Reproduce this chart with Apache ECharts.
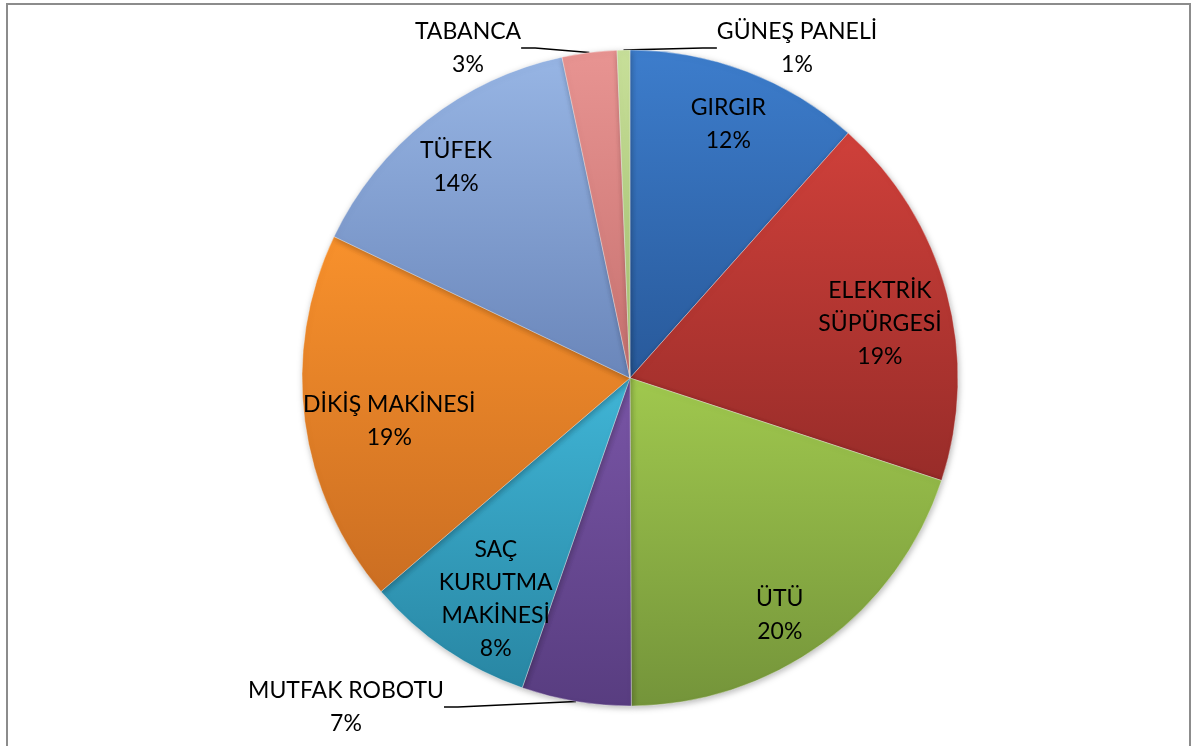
<!DOCTYPE html>
<html>
<head>
<meta charset="utf-8">
<script src="https://cdn.jsdelivr.net/npm/echarts@6/dist/echarts.min.js"></script>
<style>
html,body{margin:0;padding:0;background:#fff;}
#frame{position:absolute;left:6px;top:3px;width:1185px;height:760px;border:2px solid #8c8c8c;box-sizing:border-box;}
#chart{position:absolute;left:0;top:0;width:1197px;height:746px;}
</style>
</head>
<body>
<div id="frame"></div>
<div id="chart"></div>
<script>
// ---- data ----
const categories = ['GIRGIR', 'ELEKTRİK\nSÜPÜRGESİ', 'ÜTÜ', 'MUTFAK ROBOTU', 'SAÇ\nKURUTMA\nMAKİNESİ', 'DİKİŞ MAKİNESİ', 'TÜFEK', 'TABANCA', 'GÜNEŞ PANELİ'];
const sliceValues = [11.6, 18.5, 19.9, 5.4, 8.4, 18.4, 14.6, 2.7, 0.63];
const percentLabels = ['12%', '19%', '20%', '7%', '8%', '19%', '14%', '3%', '1%'];
const outsideSlices = ['MUTFAK ROBOTU', 'TABANCA', 'GÜNEŞ PANELİ'];

// ---- styles ----
const topColors = ['#3d7dcc', '#cf403a', '#a0c84e', '#7955a6', '#40b5d6', '#f8912c', '#97b5e4', '#e89492', '#c8e09a'];
const bottomColors = ['#28599a', '#982c29', '#74943a', '#583d80', '#2886a3', '#cb6e22', '#6a86ba', '#c6716f', '#a3bf6e'];
const innerNudge = [[4, -6], [-6, 14], [-6, 23], [0, 0], [15, 2], [22, 8], [-10, -3], [0, 0], [0, 0]];
const outsidePos = { 'MUTFAK ROBOTU': [346, 707], 'TABANCA': [468, 48], 'GÜNEŞ PANELİ': [797, 48] };

const CENTER = [630, 378];
const R = 328;
const FONT = 'Lato';

const chart = echarts.init(document.getElementById('chart'), null, { renderer: 'canvas' });

function grad(i) {
  return new echarts.graphic.LinearGradient(0, 0, 0, 1, [
    { offset: 0, color: topColors[i] },
    { offset: 1, color: bottomColors[i] }
  ]);
}

const mainData = categories.map((name, i) => {
  const isOut = outsideSlices.indexOf(name) >= 0;
  return {
    name: name,
    value: sliceValues[i],
    itemStyle: { color: grad(i) },
    label: {
      show: isOut,
      position: 'outside',
      formatter: name + '\n' + percentLabels[i],
      align: 'center',
      color: '#000',
      fontFamily: FONT,
      fontSize: 23,
      lineHeight: 33
    },
    labelLine: { show: isOut, length: 4, length2: 14, smooth: false, lineStyle: { color: '#000', width: 1.6 } }
  };
});

const labelData = categories.map((name, i) => {
  const isOut = outsideSlices.indexOf(name) >= 0;
  return {
    name: name,
    value: sliceValues[i],
    label: { show: !isOut, formatter: name + '\n' + percentLabels[i] }
  };
});

chart.setOption({
  backgroundColor: 'transparent',
  animation: false,
  series: [
    {
      type: 'pie',
      center: CENTER,
      radius: [0, R],
      startAngle: 90,
      clockwise: true,
      avoidLabelOverlap: false,
      silent: true,
      itemStyle: {
        borderColor: 'rgba(255,255,255,0.35)',
        borderWidth: 1,
        shadowBlur: 6,
        shadowColor: 'rgba(0,0,0,0.28)',
        shadowOffsetX: 1,
        shadowOffsetY: 2
      },
      labelLayout: function (p) {
        const name = categories[p.dataIndex];
        const pos = outsidePos[name];
        if (!pos) return {};
        return { x: pos[0], y: pos[1], align: 'center', verticalAlign: 'middle' };
      },
      data: mainData
    },
    {
      type: 'pie',
      center: CENTER,
      radius: [196, R],
      startAngle: 90,
      clockwise: true,
      avoidLabelOverlap: false,
      silent: true,
      itemStyle: { color: 'rgba(0,0,0,0)', borderWidth: 0 },
      label: {
        position: 'inside',
        color: '#000',
        fontFamily: FONT,
        fontSize: 23,
        lineHeight: 33,
        align: 'center'
      },
      labelLine: { show: false },
      labelLayout: function (p) {
        const n = innerNudge[p.dataIndex];
        return { dx: n[0], dy: n[1] };
      },
      data: labelData
    }
  ]
});
</script>
</body>
</html>
